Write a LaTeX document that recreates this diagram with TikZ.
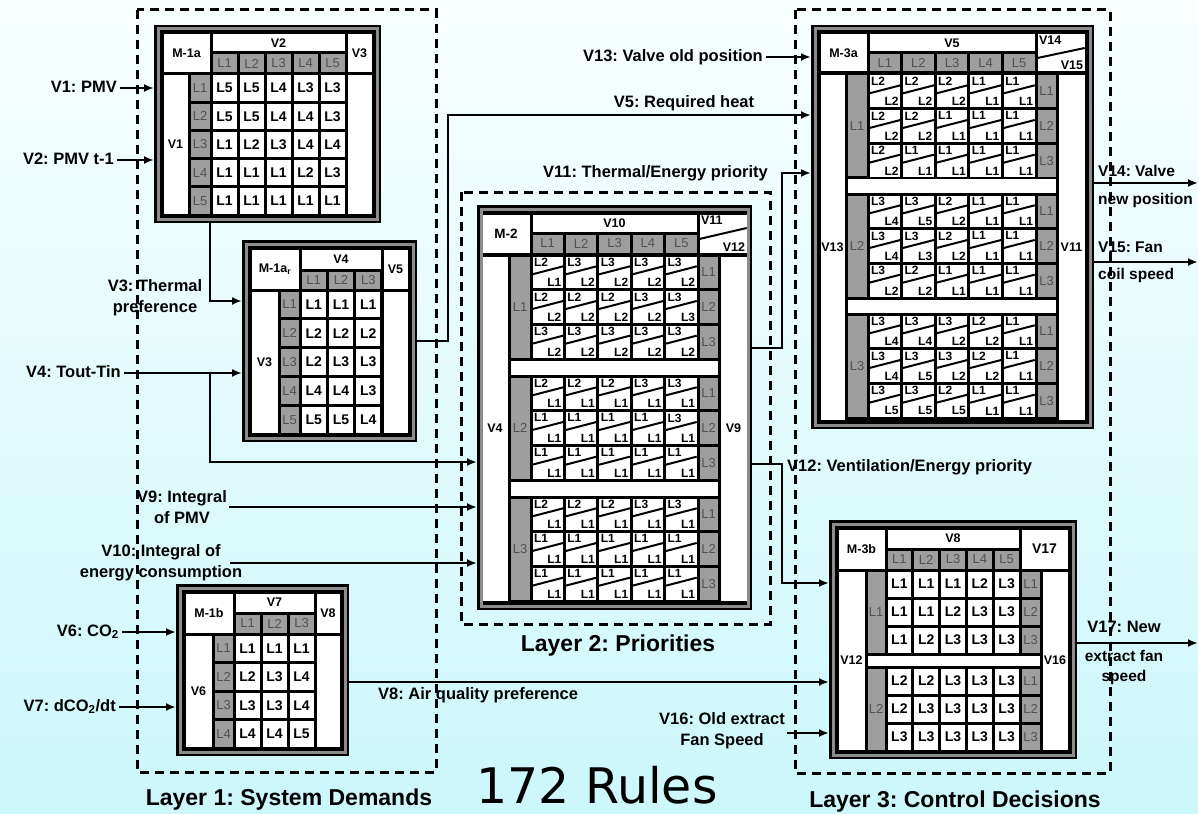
\documentclass[tikz,border=0pt]{standalone}
\usepackage{fontspec}
\setmainfont{Liberation Sans}
\newfontfamily\rulesfont{DejaVu Sans}
\usetikzlibrary{arrows.meta}
\frenchspacing

\definecolor{tgrey}{gray}{0.62}
\definecolor{fgrey}{gray}{0.55}
\definecolor{gtext}{gray}{0.32}
\definecolor{bgtop}{RGB}{248,255,255}
\definecolor{bgbot}{RGB}{204,247,251}

% ячейка таблицы: стиль, имя, x1, y1, x2, y2, текст
\newcommand{\cellbox}[7][wcell]{%
  \node[#1, minimum width={(#5)-(#3)-3}, minimum height={(#6)-(#4)-3}]
    (#2) at ({((#3)+(#5))/2},{((#4)+(#6))/2}) {#7};}

\begin{document}
\begin{tikzpicture}[
  x=1pt, y=-1pt,
  line join=miter,
  tbl/.style={draw=black, line width=2.5pt, double=fgrey, double distance=3pt,
    fill=black, inner sep=0pt, outer sep=4pt},
  wcell/.style={fill=white, inner sep=0pt, font=\fontsize{12.5}{12.5}\selectfont\bfseries},
  gcell/.style={fill=tgrey, inner sep=0pt, text=gtext, font=\fontsize{13}{13}\selectfont},
  dcell/.style={fill=white, inner sep=0pt, font=\fontsize{14}{14}\selectfont\bfseries},
  tl/.style={anchor=north west, inner sep=1.5pt, font=\fontsize{12}{12}\selectfont\bfseries},
  br/.style={anchor=south east, inner sep=1.5pt, font=\fontsize{12}{12}\selectfont\bfseries},
  diag/.style={line width=2pt},
  lbl/.style={inner sep=3pt, text height=12pt, text depth=3.5pt,
    font=\fontsize{16.5}{21}\selectfont\bfseries},
  lbltwo/.style={inner sep=2pt, align=center, font=\fontsize{16.5}{21}\selectfont\bfseries},
  layerlbl/.style={font=\fontsize{23}{23}\selectfont\bfseries},
  layer/.style={line width=3pt, dash pattern=on 9pt off 6pt},
  flow/.style={line width=2.5pt, -{Latex[length=10pt,width=8pt]}}
]
  % Фон
  \useasboundingbox (0,0) rectangle (1198,813);
  \clip (0,0) rectangle (1198,813);
  \fill[top color=bgtop, bottom color=bgbot] (0,0) rectangle (1198,813);

  % Слои
  \draw[layer] (137,10) rectangle (436,772);
  \draw[layer] (461,192) rectangle (770,624);
  \draw[layer] (795,10) rectangle (1110,773);
  \node[layerlbl] (lay1) at (289,800) {Layer 1: System Demands};
  \node[layerlbl] (lay2) at (618,646) {Layer 2: Priorities};
  \node[layerlbl] (lay3) at (955,802) {Layer 3: Control Decisions};

  % Таблица M-1a
  \node[tbl, minimum width=219, minimum height=190] (m1a) at (267.5,124) {};
  \cellbox{m1a-n}{162}{33}{211}{74}{M-1a}
  \cellbox{m1a-h}{211}{33}{346}{53}{V2}
  \cellbox{m1a-o}{346}{33}{373}{74}{V3}
  \cellbox{m1a-l}{162}{74}{189}{215}{V1}
  \cellbox{m1a-r}{346}{74}{373}{215}{}
  \foreach \i in {1,...,5}
    \cellbox[gcell]{m1a-c\i}{211+27*(\i-1)}{53}{211+27*\i}{74}{L\i};
  \foreach \row [count=\r] in {{L5,L5,L4,L3,L3},{L5,L5,L4,L4,L3},
      {L1,L2,L3,L4,L4},{L1,L1,L1,L2,L3},{L1,L1,L1,L1,L1}} {
    \cellbox[gcell]{m1a-g\r}{189}{74+28.2*(\r-1)}{211}{74+28.2*\r}{L\r}
    \foreach \v [count=\c] in \row
      \cellbox[dcell]{m1a-\r-\c}{211+27*(\c-1)}{74+28.2*(\r-1)}{211+27*\c}{74+28.2*\r}{\v};
  }

  % Таблица M-1a_r
  \node[tbl, minimum width=167, minimum height=194] (m1ar) at (329.5,341) {};
  \cellbox{m1ar-n}{250}{248}{300}{290}{M-1a\textsubscript{r}}
  \cellbox{m1ar-h}{300}{248}{382}{270}{V4}
  \cellbox{m1ar-o}{382}{248}{409}{290}{V5}
  \cellbox{m1ar-l}{250}{290}{279}{434}{V3}
  \cellbox{m1ar-r}{382}{290}{409}{434}{}
  \foreach \i in {1,2,3}
    \cellbox[gcell]{m1ar-c\i}{300+27.33*(\i-1)}{270}{300+27.33*\i}{290}{L\i};
  \foreach \row [count=\r] in {{L1,L1,L1},{L2,L2,L2},{L2,L3,L3},{L4,L4,L3},{L5,L5,L4}} {
    \cellbox[gcell]{m1ar-g\r}{279}{290+28.8*(\r-1)}{300}{290+28.8*\r}{L\r}
    \foreach \v [count=\c] in \row
      \cellbox[dcell]{m1ar-\r-\c}{300+27.33*(\c-1)}{290+28.8*(\r-1)}{300+27.33*\c}{290+28.8*\r}{\v};
  }

  % Таблица M-1b
  \node[tbl, minimum width=165, minimum height=164] (m1b) at (262.5,670) {};
  \cellbox{m1b-n}{184}{592}{234}{634}{M-1b}
  \cellbox{m1b-h}{234}{592}{315}{613}{V7}
  \cellbox{m1b-o}{315}{592}{341}{634}{V8}
  \cellbox{m1b-l}{184}{634}{213}{748}{V6}
  \cellbox{m1b-r}{315}{634}{341}{748}{}
  \foreach \i in {1,2,3}
    \cellbox[gcell]{m1b-c\i}{234+27*(\i-1)}{613}{234+27*\i}{634}{L\i};
  \foreach \row [count=\r] in {{L1,L1,L1},{L2,L3,L4},{L3,L3,L4},{L4,L4,L5}} {
    \cellbox[gcell]{m1b-g\r}{213}{634+28.5*(\r-1)}{234}{634+28.5*\r}{L\r}
    \foreach \v [count=\c] in \row
      \cellbox[dcell]{m1b-\r-\c}{234+27*(\c-1)}{634+28.5*(\r-1)}{234+27*\c}{634+28.5*\r}{\v};
  }

  % Таблица M-2
  \node[tbl, minimum width=267, minimum height=397] (m2) at (614.5,407.5) {};
  \cellbox{m2-n}{481}{213}{531}{254}{\fontsize{13.5}{13.5}\selectfont M-2}
  \cellbox{m2-h}{531}{213}{698}{233}{V10}
  \cellbox{m2-o}{698}{213}{748}{254}{}
  \draw[diag] ([yshift=-5.5pt]m2-o.west) -- ([yshift=5.5pt]m2-o.east);
  \node[tl, font=\fontsize{12.5}{12.5}\selectfont\bfseries] (m2-o1) at (m2-o.north west) {V11};
  \node[br, font=\fontsize{12.5}{12.5}\selectfont\bfseries] (m2-o2) at (m2-o.south east) {V12};
  \foreach \i in {1,...,5}
    \cellbox[gcell]{m2-c\i}{531+33.4*(\i-1)}{233}{531+33.4*\i}{254}{L\i};
  \cellbox{m2-l}{481}{255}{509}{602}{V4}
  \cellbox{m2-r}{719}{255}{748}{602}{V9}
  \foreach \g/\lab in {0/L1,1/L2,2/L3}
    \cellbox[gcell]{m2-g\g}{509}{255+121*\g}{531}{359+121*\g}{\lab};
  \foreach \g in {0,1}
    \cellbox{m2-s\g}{509}{359+121*\g}{719}{376+121*\g}{};
  \foreach \row [count=\r from 0] in {
      {L2/L1,L3/L2,L3/L2,L3/L2,L3/L2},{L2/L2,L2/L2,L2/L2,L3/L2,L3/L3},
      {L3/L2,L3/L2,L3/L2,L3/L2,L3/L2},{L2/L1,L2/L1,L2/L1,L3/L1,L3/L1},
      {L1/L1,L1/L1,L1/L1,L1/L1,L3/L1},{L1/L1,L1/L1,L1/L1,L1/L1,L1/L1},
      {L2/L1,L2/L1,L2/L1,L3/L1,L3/L1},{L1/L1,L1/L1,L1/L1,L1/L1,L1/L1},
      {L1/L1,L1/L1,L1/L1,L1/L1,L1/L1}} {
    \pgfmathtruncatemacro{\g}{\r/3}
    \pgfmathtruncatemacro{\k}{\r-3*\g+1}
    \pgfmathsetmacro{\yy}{255+121*\g+34.67*(\k-1)}
    \cellbox[gcell]{m2-v\r}{698}{\yy}{719}{\yy+34.67}{L\k}
    \foreach \t/\b [count=\c] in \row {
      \cellbox{m2-\r-\c}{531+33.4*(\c-1)}{\yy}{531+33.4*\c}{\yy+34.67}{}
      \draw[diag] ([yshift=-2pt]m2-\r-\c.west) -- ([yshift=6pt]m2-\r-\c.east);
      \node[tl] (m2-\r-\c-a) at (m2-\r-\c.north west) {\t};
      \node[br] (m2-\r-\c-b) at (m2-\r-\c.south east) {\b};
    }
  }

  % Таблица M-3a
  \node[tbl, minimum width=275, minimum height=396] (m3a) at (952.5,227) {};
  \cellbox{m3a-n}{819}{33}{868}{73}{M-3a}
  \cellbox{m3a-h}{868}{33}{1036}{53}{V5}
  \cellbox{m3a-o}{1036}{33}{1086}{73}{}
  \draw[diag] ([yshift=-5pt]m3a-o.west) -- ([yshift=5pt]m3a-o.east);
  \node[tl, font=\fontsize{12.5}{12.5}\selectfont\bfseries] (m3a-o1) at (m3a-o.north west) {V14};
  \node[br, font=\fontsize{12.5}{12.5}\selectfont\bfseries] (m3a-o2) at (m3a-o.south east) {V15};
  \foreach \i in {1,...,5}
    \cellbox[gcell]{m3a-c\i}{868+33.6*(\i-1)}{53}{868+33.6*\i}{73}{L\i};
  \cellbox{m3a-l}{819}{74}{846}{421}{V13}
  \cellbox{m3a-r}{1057}{74}{1086}{421}{V11}
  \foreach \g/\lab in {0/L1,1/L2,2/L3}
    \cellbox[gcell]{m3a-g\g}{846}{74+120*\g}{868}{178+120*\g}{\lab};
  \foreach \g in {0,1}
    \cellbox{m3a-s\g}{846}{178+120*\g}{1057}{194+120*\g}{};
  \foreach \row [count=\r from 0] in {
      {L2/L2,L2/L2,L2/L2,L1/L1,L1/L1},{L2/L2,L2/L2,L1/L1,L1/L1,L1/L1},
      {L2/L2,L1/L1,L1/L1,L1/L1,L1/L1},{L3/L4,L3/L5,L2/L2,L1/L1,L1/L1},
      {L3/L4,L3/L3,L2/L2,L1/L1,L1/L1},{L3/L2,L2/L2,L1/L1,L1/L1,L1/L1},
      {L3/L4,L3/L4,L3/L2,L2/L2,L1/L1},{L3/L4,L3/L5,L3/L2,L2/L2,L1/L1},
      {L3/L5,L3/L5,L2/L5,L1/L1,L1/L1}} {
    \pgfmathtruncatemacro{\g}{\r/3}
    \pgfmathtruncatemacro{\k}{\r-3*\g+1}
    \pgfmathsetmacro{\yy}{74+120*\g+34.67*(\k-1)}
    \cellbox[gcell]{m3a-v\r}{1036}{\yy}{1057}{\yy+34.67}{L\k}
    \foreach \t/\b [count=\c] in \row {
      \cellbox{m3a-\r-\c}{868+33.6*(\c-1)}{\yy}{868+33.6*\c}{\yy+34.67}{}
      \draw[diag] ([yshift=-2pt]m3a-\r-\c.west) -- ([yshift=6pt]m3a-\r-\c.east);
      \node[tl] (m3a-\r-\c-a) at (m3a-\r-\c.north west) {\t};
      \node[br] (m3a-\r-\c-b) at (m3a-\r-\c.south east) {\b};
    }
  }

  % Таблица M-3b
  \node[tbl, minimum width=240, minimum height=231] (m3b) at (953,639.5) {};
  \cellbox{m3b-n}{837}{528}{886}{570}{M-3b}
  \cellbox{m3b-h}{886}{528}{1020}{549}{V8}
  \cellbox{m3b-o}{1020}{528}{1069}{570}{\fontsize{14}{14}\selectfont V17}
  \foreach \i in {1,...,5}
    \cellbox[gcell]{m3b-c\i}{886+26.8*(\i-1)}{549}{886+26.8*\i}{570}{L\i};
  \cellbox{m3b-l}{837}{570}{866}{751}{V12}
  \cellbox{m3b-r}{1041}{570}{1069}{751}{V16}
  \foreach \g/\lab in {0/L1,1/L2}
    \cellbox[gcell]{m3b-g\g}{866}{570+97*\g}{886}{654+97*\g}{\lab};
  \cellbox{m3b-s0}{866}{654}{1041}{667}{}
  \foreach \row [count=\r from 0] in {{L1,L1,L1,L2,L3},{L1,L1,L2,L3,L3},
      {L1,L2,L3,L3,L3},{L2,L2,L3,L3,L3},{L2,L3,L3,L3,L3},{L3,L3,L3,L3,L3}} {
    \pgfmathtruncatemacro{\g}{\r/3}
    \pgfmathtruncatemacro{\k}{\r-3*\g+1}
    \pgfmathsetmacro{\yy}{570+97*\g+28*(\k-1)}
    \cellbox[gcell]{m3b-v\r}{1020}{\yy}{1041}{\yy+28}{L\k}
    \foreach \v [count=\c] in \row
      \cellbox[dcell]{m3b-\r-\c}{886+26.8*(\c-1)}{\yy}{886+26.8*\c}{\yy+28}{\v};
  }

  % Входы и выходы
  \node[lbl, anchor=east] (v1) at (120,88) {V1: PMV};
  \node[lbl, anchor=east] (v2) at (117,160) {V2: PMV t-1};
  \node[lbltwo] (v3) at (155,298) {V3: Thermal\\preference};
  \node[lbl, anchor=east] (v4) at (124,373) {V4: Tout-Tin};
  \node[lbl] (v5) at (684,103) {V5: Required heat};
  \node[lbl, anchor=east] (v13) at (766,57) {V13: Valve old position};
  \node[lbl, anchor=east] (v11) at (771,173) {V11: Thermal/Energy priority};
  \node[lbl, anchor=west] (v12) at (784,467) {V12: Ventilation/Energy priority};
  \node[lbltwo] (v9) at (182,507) {V9: Integral\\of PMV};
  \node[lbltwo] (v10) at (161,563) {V10: Integral of\\energy consumption};
  \node[lbl, anchor=east] (v6) at (122,632) {V6: CO\textsubscript{2}};
  \node[lbl, anchor=east] (v7) at (119,707) {V7: dCO\textsubscript{2}/dt};
  \node[lbl, anchor=west] (v8) at (375,695) {V8: Air quality preference};
  \node[lbltwo] (v16) at (722,731) {V16: Old extract\\Fan Speed};
  \node[lbltwo, align=left, anchor=west, font=\fontsize{15.5}{28}\selectfont\bfseries]
    (v14) at (1096,186) {V14: Valve\\new position};
  \node[lbltwo, align=left, anchor=west, font=\fontsize{15.5}{27}\selectfont\bfseries]
    (v15) at (1096,262) {V15: Fan\\coil speed};
  \node[lbl] (v17) at (1124,628) {V17: New};
  \node[lbltwo, font=\fontsize{15.5}{20}\selectfont\bfseries] (v17b) at (1124,667) {extract fan\\speed};
  \node[font=\rulesfont\fontsize{49}{49}\selectfont, anchor=base] (rules) at (597,803) {172 Rules};

  \coordinate (v3k) at (210,301);
  \coordinate (v4k) at (210,462);
  \coordinate (v5k) at (448,115);
  \coordinate (v11k) at (782,348);
  \coordinate (v12k) at (782,464);
  \coordinate (v12m) at (782,583);
  \coordinate (v10s) at (230,563);
  \coordinate (v8k) at (0,682);
  \coordinate (v16s) at (787,733);
  \coordinate (v14e) at (1198,183);
  \coordinate (v15e) at (1198,262);
  \coordinate (v17e) at (1198,643);

  \draw[flow] (v1.east) -- (v1.east -| m1a.west);
  \draw[flow] (v2.east) -- (v2.east -| m1a.west);
  \draw[flow] (m1a.south -| v3k) |- (v3k -| m1ar.west);
  \draw[flow] (v4.east) -- (v4.east -| m1ar.west);
  \draw[flow] (v4.east -| v4k) |- (v4k -| m2.west);
  \draw[flow] (m1ar.east) -| (v5k) -- (v5k -| m3a.west);
  \draw[flow] (v13.east) -- (v13.east -| m3a.west);
  \draw[flow] (v11k -| m2.east) -- (v11k) |- (v11.east -| m3a.west);
  \draw[flow] (v12k -| m2.east) -- (v12k) -- (v12m) -- (v12m -| m3b.west);
  \draw[flow] (v9.east) -- (v9.east -| m2.west);
  \draw[flow] (v10s) -- (v10s -| m2.west);
  \draw[flow] (v6.east) -- (v6.east -| m1b.west);
  \draw[flow] (v7.east) -- (v7.east -| m1b.west);
  \draw[flow] (v8k -| m1b.east) -- (v8k -| m3b.west);
  \draw[flow] (v16s) -- (v16s -| m3b.west);
  \draw[flow] (v14e -| m3a.east) -- (v14e);
  \draw[flow] (v15e -| m3a.east) -- (v15e);
  \draw[flow] (v17e -| m3b.east) -- (v17e);
\end{tikzpicture}
\end{document}
